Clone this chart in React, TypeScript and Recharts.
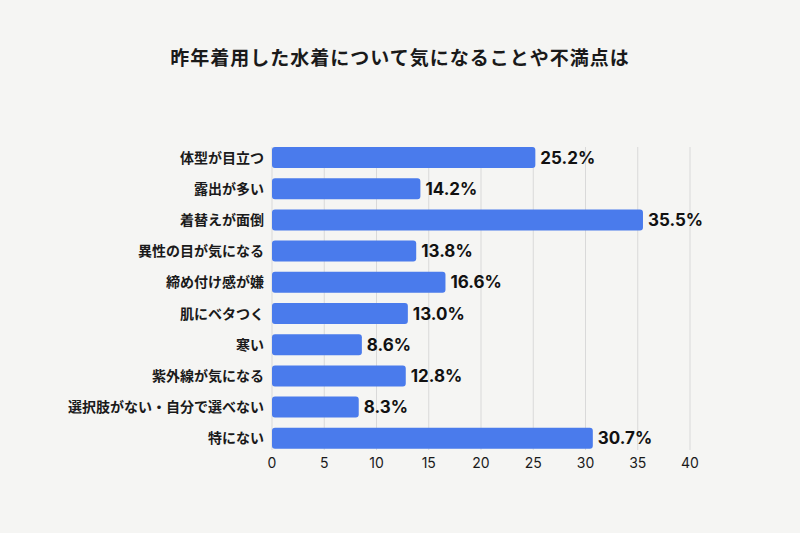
import React from 'react';
import { BarChart, Bar, XAxis, YAxis, CartesianGrid, LabelList } from 'recharts';

const categories = [
  '体型が目立つ',
  '露出が多い',
  '着替えが面倒',
  '異性の目が気になる',
  '締め付け感が嫌',
  '肌にベタつく',
  '寒い',
  '紫外線が気になる',
  '選択肢がない・自分で選べない',
  '特にない',
];
const values = [25.2, 14.2, 35.5, 13.8, 16.6, 13.0, 8.6, 12.8, 8.3, 30.7];
const xTicks = [0, 5, 10, 15, 20, 25, 30, 35, 40];
const title = '昨年着用した水着について気になることや不満点は';

const data = categories.map((name, i) => ({ name, value: values[i] }));

const BG = '#f5f5f3';
const BAR = '#4a7bec';
const CJK = '"Noto Sans CJK JP", "Noto Sans", sans-serif';

const GridLine = (props: any) => {
  const { x1, x2, y1, y2, key } = props;
  return <line key={key} x1={x1} x2={x2} y1={y1 + 5} y2={y2 - 4} stroke="#d9d9d9" strokeWidth={1} />;
};

export default function App() {
  return (
    <div style={{ position: 'fixed', left: 0, top: 0, width: 800, height: 533, background: BG }}>
      <div
        style={{
          position: 'absolute',
          top: 44,
          left: 0,
          width: 800,
          textAlign: 'center',
          fontFamily: CJK,
          fontWeight: 700,
          fontSize: 19,
          letterSpacing: 1,
          color: '#1a1a1a',
          lineHeight: '26px',
        }}
      >
        {title}
      </div>
      <BarChart
        width={800}
        height={533}
        data={data}
        layout="vertical"
        margin={{ top: 142, right: 110, bottom: 49, left: 0 }}
        barCategoryGap={0}
        style={{ position: 'absolute', left: 0, top: 0 }}
      >
        <CartesianGrid horizontal={false} vertical={GridLine as any} />
        <XAxis
          type="number"
          domain={[0, 40]}
          ticks={xTicks}
          interval={0}
          axisLine={false}
          tickLine={false}
          tickSize={0}
          tickMargin={4}
          height={30}
          tick={{ fill: '#1a1a1a', fontSize: 14, fontFamily: 'Inter, "Noto Sans", sans-serif' }}
        />
        <YAxis
          type="category"
          dataKey="name"
          width={272}
          axisLine={false}
          tickLine={false}
          interval={0}
          tick={{ fill: '#1a1a1a', fontSize: 14, fontWeight: 600, fontFamily: CJK }}
        />
        <Bar dataKey="value" fill={BAR} barSize={21} radius={3} isAnimationActive={false}>
          <LabelList
            dataKey="value"
            position="right"
            offset={5}
            formatter={(v: any) => `${Number(v).toFixed(1)}%`}
            style={{ fill: '#111', fontSize: 17, fontWeight: 700, fontFamily: 'Inter, "Noto Sans", sans-serif' }}
          />
        </Bar>
      </BarChart>
    </div>
  );
}
